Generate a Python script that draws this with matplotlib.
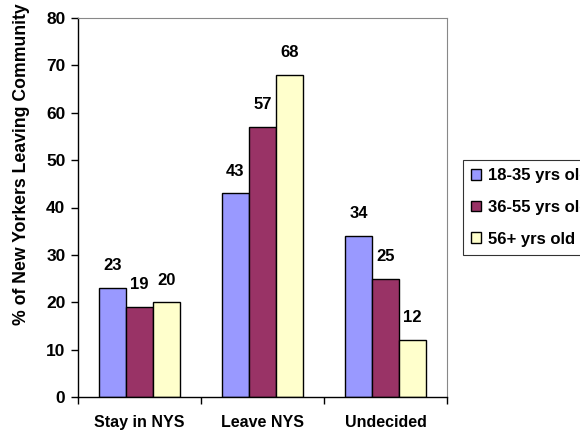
import matplotlib.pyplot as plt
import numpy as np

plt.rcParams['font.family'] = ['Liberation Sans', 'DejaVu Sans']
plt.rcParams['font.weight'] = 'bold'

categories = ["Stay in NYS", "Leave NYS", "Undecided"]
series_names = ["18-35 yrs old", "36-55 yrs old", "56+ yrs old"]
young = [23, 43, 34]
middle = [19, 57, 25]
older = [20, 68, 12]
colors = ["#9999FF", "#993366", "#FFFFCC"]

fig = plt.figure(figsize=(5.8, 4.33), dpi=100)
ax = fig.add_axes([78/580, 1 - 397/433, (447 - 78)/580, (397 - 18)/433])

x = np.arange(len(categories)) + 0.5
w = 0.22
for i, (vals, name, c) in enumerate(zip([young, middle, older], series_names, colors)):
    ax.bar(x + (i - 1) * w, vals, w, color=c, edgecolor="black", linewidth=1.0, label=name)
    for xi, v in zip(x + (i - 1) * w, vals):
        ax.annotate(str(v), (xi, v), xytext=(0, 16), textcoords="offset points",
                    ha="center", va="center", fontsize=12, fontweight="bold")

ax.set_xlim(0, 3)
ax.set_ylim(0, 80)
ax.set_yticks(range(0, 81, 10))
ax.tick_params(axis="y", labelsize=12.5, length=5, width=1, direction="out", pad=4)
ax.set_xticks(x)
ax.set_xticklabels(categories, fontsize=11.5, fontweight="bold")
ax.tick_params(axis="x", length=0, pad=13)
ax.set_xticks([0, 1, 2, 3], minor=True)
ax.tick_params(axis="x", which="minor", length=5, width=1, direction="out")

for s in ["top", "right"]:
    ax.spines[s].set_color("#888888")
    ax.spines[s].set_linewidth(0.8)
for s in ["left", "bottom"]:
    ax.spines[s].set_color("black")
    ax.spines[s].set_linewidth(1.0)

fig.text(22/580, 1 - 164/433, "% of New Yorkers Leaving Community", rotation=90,
         ha="center", va="center", fontsize=12.7, fontweight="bold")

leg = fig.legend(loc="upper left", bbox_to_anchor=(463/580, 1 - 160/433),
                 fontsize=12, frameon=True, fancybox=False, edgecolor="black",
                 handlelength=0.6, handleheight=0.6, handletextpad=0.4,
                 labelspacing=1.0, borderpad=0.5, borderaxespad=0)
leg.get_frame().set_linewidth(0.8)

fig.savefig("out.png", dpi=100)
